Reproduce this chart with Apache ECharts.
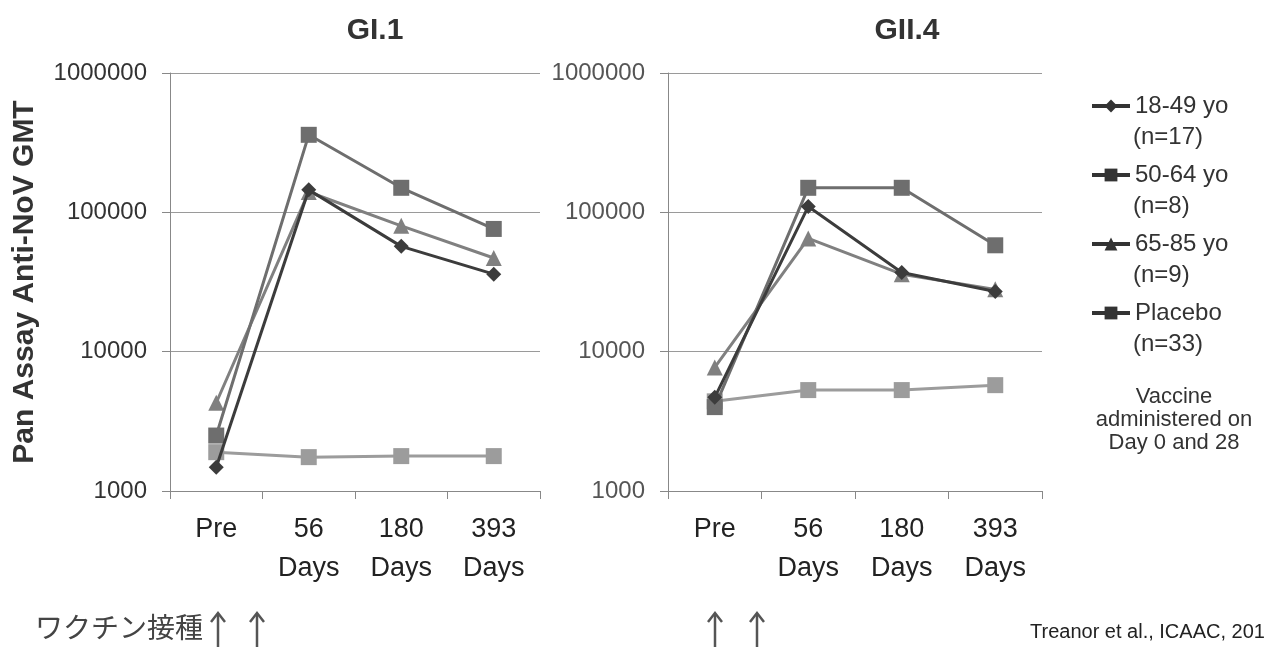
<!DOCTYPE html>
<html>
<head>
<meta charset="utf-8">
<script src="https://cdn.jsdelivr.net/npm/echarts@6/dist/echarts.min.js"></script>
<style>
  html, body { margin: 0; padding: 0; background: #fff; }
  #main { width: 1265px; height: 647px; }
</style>
</head>
<body>
<div id="main"></div>
<script type="text/javascript">
	// data
	var days = ['Pre', '56\nDays', '180\nDays', '393\nDays'];
	var groups = ['18-49 yo', '50-64 yo', '65-85 yo', 'Placebo'];
	var groupN = ['(n=17)', '(n=8)', '(n=9)', '(n=33)'];
	var yTicks = [1000, 10000, 100000, 1000000];

	// GI.1
	var gi1_1849 = [1480, 145000, 57000, 36000];
	var gi1_5064 = [2500, 360000, 150000, 76000];
	var gi1_6585 = [4300, 140000, 80000, 47000];
	var gi1_plac = [1900, 1750, 1780, 1780];

	// GII.4
	var gii4_1849 = [4700, 110000, 37000, 27000];
	var gii4_5064 = [4000, 150000, 150000, 58000];
	var gii4_6585 = [7700, 65000, 36000, 28000];
	var gii4_plac = [4400, 5300, 5300, 5750];

	var font = 'Liberation Sans, Arial, sans-serif';
	var colors = ['#3c3c3c', '#6e6e6e', '#808080', '#9c9c9c'];
	var symbols = ['diamond', 'rect', 'triangle', 'rect'];
	var sizes = [15, 16, 16, 16];

	var myChart = echarts.init(document.getElementById('main'));

	function xAx(idx) {
		return {
			type: 'category', gridIndex: idx, data: days, boundaryGap: true,
			axisLine: { lineStyle: { color: '#888', width: 1 } },
			axisTick: { show: true, interval: 0, length: 8, lineStyle: { color: '#888' } },
			axisLabel: { interval: 0, margin: 19, fontSize: 27, lineHeight: 39, color: '#222', fontFamily: font }
		};
	}
	function yAx(idx, labelColor) {
		return {
			type: 'log', logBase: 10, gridIndex: idx, min: yTicks[0], max: yTicks[yTicks.length - 1],
			axisLine: { show: true, lineStyle: { color: '#888' } },
			axisTick: { show: true, length: 8, lineStyle: { color: '#888' } },
			minorTick: { show: false },
			splitLine: { show: true, lineStyle: { color: '#9a9a9a', width: 1 } },
			axisLabel: {
				margin: 23, fontSize: 24, color: labelColor, fontFamily: font,
				formatter: function (v) { return String(Math.round(v)); }
			}
		};
	}
	function ser(name, i, grid, data) {
		return {
			name: name, type: 'line', xAxisIndex: grid, yAxisIndex: grid, data: data,
			symbol: symbols[i], symbolSize: sizes[i], z: 10 - i,
			lineStyle: { color: colors[i], width: 3 },
			itemStyle: { color: colors[i] }
		};
	}

	var yLeft = yAx(0, '#333');
	yLeft.name = 'Pan Assay Anti-NoV GMT';
	yLeft.nameLocation = 'middle';
	yLeft.nameGap = 130;
	yLeft.nameTextStyle = { fontSize: 30, fontWeight: 'bold', color: '#333', fontFamily: font };

	// the "(n=..)" second lines of the legend
	var nTexts = groupN.map(function (t, k) {
		return { type: 'text', x: 1133, y: 137 + k * 69, style: { text: t, fontSize: 24, fill: '#333', fontFamily: font, textVerticalAlign: 'middle' } };
	});

	var arrows = [];
	[218, 257, 715, 757].forEach(function (x) {
		arrows.push({ type: 'polyline', shape: { points: [[x, 647], [x, 614]] }, style: { stroke: '#555', lineWidth: 2.5 } });
		arrows.push({ type: 'polyline', shape: { points: [[x - 7, 622], [x, 613], [x + 7, 622]] }, style: { stroke: '#555', lineWidth: 2.5, fill: null } });
	});

	myChart.setOption({
		animation: false,
		title: [
			{ text: 'GI.1', left: 370, top: 11, textAlign: 'center', textStyle: { fontSize: 30, fontWeight: 'bold', color: '#333', fontFamily: font } },
			{ text: 'GII.4', left: 902, top: 11, textAlign: 'center', textStyle: { fontSize: 30, fontWeight: 'bold', color: '#333', fontFamily: font } }
		],
		grid: [
			{ left: 170, top: 73, width: 370, height: 418 },
			{ left: 668, top: 73, width: 374, height: 418 }
		],
		xAxis: [xAx(0), xAx(1)],
		yAxis: [yLeft, yAx(1, '#555')],
		legend: {
			orient: 'vertical', left: 1090, top: 90, padding: 0,
			itemWidth: 38, itemHeight: 16, itemGap: 37,
			data: groups,
			textStyle: { fontSize: 24, lineHeight: 32, color: '#333', fontFamily: font },
			lineStyle: { color: '#333', width: 4 },
			itemStyle: { color: '#333' }
		},
		series: [
			ser(groups[3], 3, 0, gi1_plac),
			ser(groups[2], 2, 0, gi1_6585),
			ser(groups[1], 1, 0, gi1_5064),
			ser(groups[0], 0, 0, gi1_1849),
			ser(groups[3], 3, 1, gii4_plac),
			ser(groups[2], 2, 1, gii4_6585),
			ser(groups[1], 1, 1, gii4_5064),
			ser(groups[0], 0, 1, gii4_1849)
		],
		graphic: nTexts.concat(arrows).concat([
			{ type: 'text', x: 1174, y: 420, style: { text: 'Vaccine\nadministered on\nDay 0 and 28', textAlign: 'center', textVerticalAlign: 'middle', fontSize: 22, lineHeight: 23, fill: '#333', fontFamily: font } },
			{ type: 'text', x: 1030, y: 632, style: { text: 'Treanor et al., ICAAC, 201', fontSize: 20, fill: '#222', fontFamily: font, textVerticalAlign: 'middle' } },
			{ type: 'text', x: 35, y: 627, style: { text: 'ワクチン接種', fontSize: 28, fill: '#444', fontFamily: 'Noto Sans CJK JP', textVerticalAlign: 'middle' } }
		])
	});
</script>
</body>
</html>
